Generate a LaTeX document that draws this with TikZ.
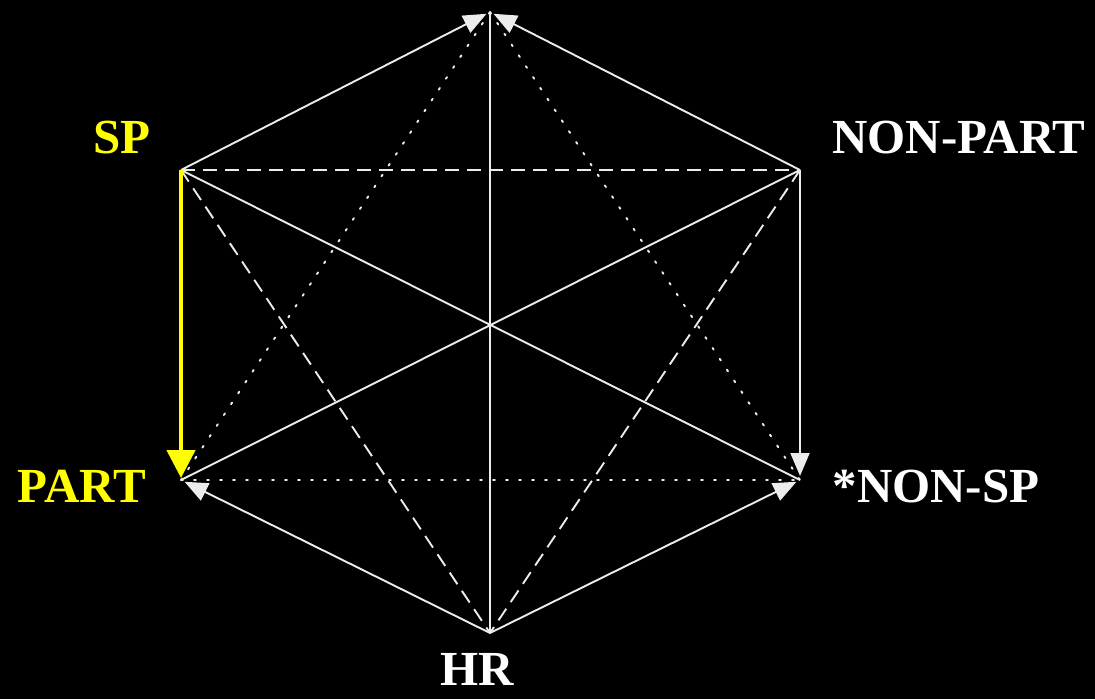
\documentclass[tikz,border=0pt]{standalone}
\usepackage{fontspec}
\setmainfont{Liberation Serif}
\usetikzlibrary{arrows.meta}
\definecolor{lineclr}{RGB}{236,236,236}
\definecolor{hilite}{RGB}{255,255,0}

\begin{document}
\begin{tikzpicture}[
  x=1pt, y=-1pt,
  edge/.style={draw=lineclr, line width=1.9pt},
  dashedge/.style={edge, dash pattern=on 14pt off 8pt},
  dotedge/.style={edge, line cap=round, dash pattern=on 2pt off 11pt},
  arrow/.style={-{Triangle[length=23pt,width=19pt]}, shorten >=4pt},
  tag/.style={inner sep=0pt, font=\fontsize{49}{49}\selectfont\bfseries},
]
  \fill[black] (0,0) rectangle (1095,699);
  \useasboundingbox (0,0) rectangle (1095,699);

  % corners of the hexagon
  \coordinate (top) at (490,12);
  \coordinate (sp) at (181,170);
  \coordinate (nonpart) at (800,170);
  \coordinate (part) at (181,480);
  \coordinate (nonsp) at (800,480);
  \coordinate (hr) at (490,633);

  % labels
  \node[tag, text=hilite] (splabel) at (122,138) {SP};
  \node[tag, text=white] (nonpartlabel) at (959,138) {NON-PART};
  \node[tag, text=hilite] (partlabel) at (82,486) {PART};
  \node[tag, text=white] (nonsplabel) at (936,487) {*NON-SP};
  \node[tag, text=white] (hrlabel) at (477,669) {HR};

  % solid lines
  \draw[edge] (top) -- (hr);
  \draw[edge] (sp) -- (nonsp);
  \draw[edge] (nonpart) -- (part);

  % dashed lines
  \draw[dashedge] (sp) -- (nonpart);
  \draw[dashedge] (sp) -- (hr);
  \draw[dashedge] (nonpart) -- (hr);

  % dotted lines
  \draw[dotedge] (part) -- (nonsp);
  \draw[dotedge] (top) -- (part);
  \draw[dotedge] (top) -- (nonsp);

  % arrows round the hexagon
  \draw[edge, arrow] (sp) -- (top);
  \draw[edge, arrow] (nonpart) -- (top);
  \draw[edge, arrow] (nonpart) -- (nonsp);
  \draw[edge, arrow] (hr) -- (part);
  \draw[edge, arrow] (hr) -- (nonsp);
  \draw[draw=hilite, line width=4.5pt, -{Triangle[length=28pt,width=28pt]}, shorten >=2pt] (sp) -- (part);
\end{tikzpicture}
\end{document}
